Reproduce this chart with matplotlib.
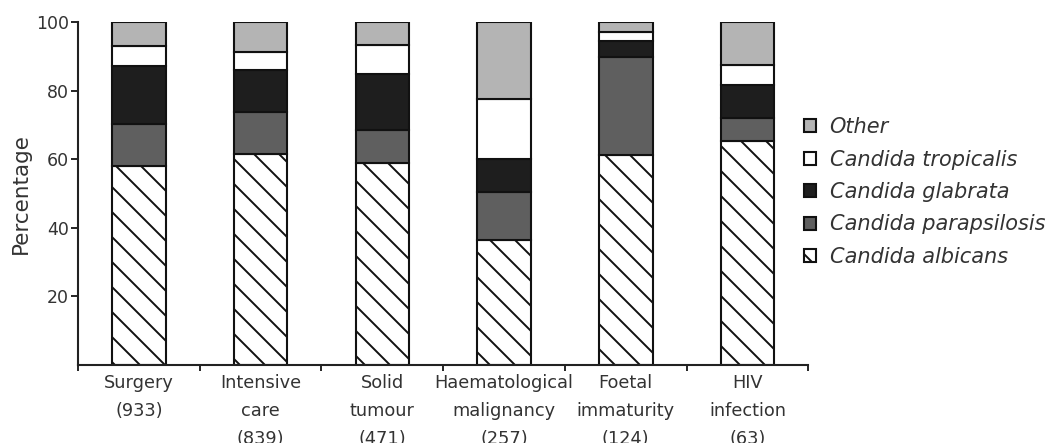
import numpy as np
import matplotlib
matplotlib.use("Agg")
import matplotlib.pyplot as plt
from matplotlib.backend_bases import GraphicsContextBase

# settings and sample sizes
groups = ['Surgery\n(933)', 'Intensive\ncare\n(839)', 'Solid\ntumour\n(471)',
          'Haematological\nmalignancy\n(257)', 'Foetal\nimmaturity\n(124)', 'HIV\ninfection\n(63)']

# percentage of each species per group
albicans = [58.1, 61.5, 58.8, 36.4, 61.2, 65.4]
parapsilosis = [12.2, 12.3, 9.7, 14.1, 28.5, 6.5]
glabrata = [17.0, 12.2, 16.3, 9.7, 4.8, 9.9]
tropicalis = [5.7, 5.2, 8.5, 17.4, 2.6, 5.7]
other = [7.0, 8.8, 6.7, 22.4, 2.9, 12.5]

species = ['Candida albicans', 'Candida parapsilosis', 'Candida glabrata',
           'Candida tropicalis', 'Other']
series = [albicans, parapsilosis, glabrata, tropicalis, other]
colors = ['white', '#5f5f5f', '#1e1e1e', 'white', '#b4b4b4']
hatches = ['\\', None, None, None, None]

# slightly denser hatch than the default 6 lines per inch
_orig_hatch = GraphicsContextBase.get_hatch_path
GraphicsContextBase.get_hatch_path = lambda self, density=8.0: _orig_hatch(self, density)

plt.rcParams['hatch.linewidth'] = 1.4

fig = plt.figure(figsize=(10.54, 4.43), dpi=100)
ax = fig.add_axes([0.074, 0.176, 0.693, 0.774])

x = np.arange(len(groups))
bottom = np.zeros(len(groups))
handles = []
for name, vals, col, h in zip(species, series, colors, hatches):
    b = ax.bar(x, vals, bottom=bottom, width=0.44, color=col, edgecolor='#111111',
               linewidth=1.5, hatch=h, label=name)
    handles.append(b)
    bottom += np.array(vals)

ax.set_xlim(-0.5, 5.5)
ax.set_ylim(0, 100)
ax.set_yticks([20, 40, 60, 80, 100])
ax.set_xticks(x)
ax.set_xticklabels(groups, fontsize=12.8, color='#333333', linespacing=1.7, va='top')
ax.set_xticks(np.arange(-0.5, 6, 1), minor=True)
ax.tick_params(axis='x', which='major', length=0, pad=6.5)
ax.tick_params(axis='x', which='minor', length=4, width=1.2, direction='out')
ax.tick_params(axis='y', labelsize=12.5, length=5, width=1.2, pad=1.5, labelcolor='#333333')
ax.set_ylabel('Percentage', fontsize=15.5, color='#333333', labelpad=4)

for s in ['top', 'right']:
    ax.spines[s].set_visible(False)
for s in ['left', 'bottom']:
    ax.spines[s].set_linewidth(1.5)
    ax.spines[s].set_color('#222222')

leg = fig.legend(handles[::-1], species[::-1], loc='center left',
                 bbox_to_anchor=(804 / 1054, 1 - 192 / 443), frameon=False,
                 prop={'style': 'italic', 'size': 15}, borderpad=0, borderaxespad=0,
                 handlelength=0.58, handleheight=0.58, handletextpad=0.65,
                 labelspacing=0.6)
for t in leg.get_texts():
    t.set_color('#333333')

fig.savefig('out.png', dpi=100)
